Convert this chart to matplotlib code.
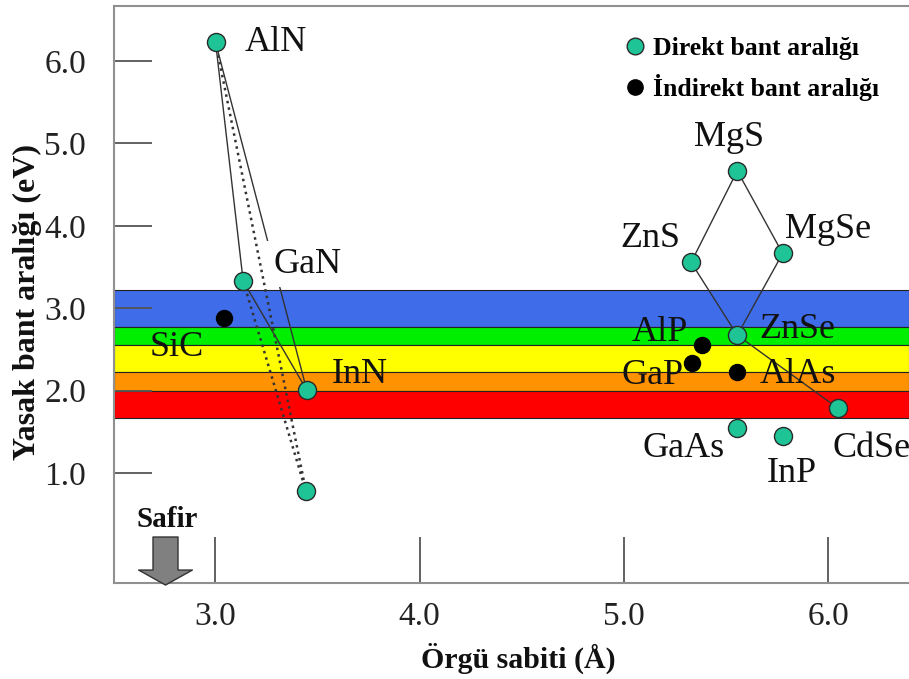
import matplotlib.pyplot as plt
from matplotlib.lines import Line2D
from matplotlib.patches import FancyArrowPatch

plt.rcParams['font.family'] = ['Liberation Serif', 'DejaVu Serif']

# --- Direkt bant aralıklı malzemeler (örgü sabiti Å, bant aralığı eV) ---
direkt_ad = ["AlN", "GaN", "InN", "InN_2", "MgS", "ZnS", "MgSe", "ZnSe", "CdSe", "GaAs", "InP"]
direkt_a = [3.002, 3.137, 3.448, 3.444, 5.554, 5.328, 5.776, 5.554, 6.048, 5.554, 5.779]
direkt_eg = [6.225, 3.328, 2.005, 0.779, 4.666, 3.555, 3.664, 2.672, 1.783, 1.547, 1.447]

# --- İndirekt bant aralıklı malzemeler ---
indirekt_ad = ["SiC", "AlP", "GaP", "AlAs"]
indirekt_a = [3.045, 5.380, 5.331, 5.554]
indirekt_eg = [2.882, 2.559, 2.336, 2.227]

# --- Görünür bölge renk bantları (eV) ---
bant_sinir = [3.218, 2.773, 2.550, 2.223, 1.996, 1.669]
bant_renk = ["#3f6ce8", "#00ee00", "#ffff00", "#ff9200", "#ff0000"]

# --- Bağlantı çizgileri ---
duz_cizgi = [("AlN", "GaN"), ("AlN", "InN"), ("GaN", "InN"),
             ("ZnS", "MgS"), ("MgS", "MgSe"), ("ZnS", "ZnSe"),
             ("MgSe", "ZnSe"), ("ZnSe", "CdSe")]
noktali_cizgi = [("AlN", "InN_2"), ("GaN", "InN_2")]

x_tik = [3.0, 4.0, 5.0, 6.0]
x_tik_etiket = ["3.0", "4.0", "5.0", "6.0"]
y_tik = [1.0, 2.0, 3.0, 4.0, 5.0, 6.0]
y_tik_etiket = ["1.0", "2.0", "3.0", "4.0", "5.0", "6.0"]

YESIL = "#1fc496"

fig = plt.figure(figsize=(9.09, 6.79), dpi=100)
ax = fig.add_axes([0.1254, 0.1414, 0.8746, 0.8498])
ax.set_xlim(2.505, 6.394)
ax.set_ylim(-0.335, 6.667)

# renk bantları
for i, renk in enumerate(bant_renk):
    ax.axhspan(bant_sinir[i + 1], bant_sinir[i], facecolor=renk,
               edgecolor="#222222", linewidth=0.8, zorder=1)

konum = dict(zip(direkt_ad, zip(direkt_a, direkt_eg)))
konum.update(dict(zip(indirekt_ad, zip(indirekt_a, indirekt_eg))))

for a, b in duz_cizgi:
    ax.plot([konum[a][0], konum[b][0]], [konum[a][1], konum[b][1]],
            color="#333333", lw=1.0, zorder=2)
for a, b in noktali_cizgi:
    ax.plot([konum[a][0], konum[b][0]], [konum[a][1], konum[b][1]],
            color="#333333", lw=1.8, ls=":", zorder=2)

ax.plot(direkt_a, direkt_eg, "o", ms=13, mfc=YESIL, mec="#2a2a2a", mew=1.0,
        ls="none", zorder=3)
ax.plot(indirekt_a, indirekt_eg, "o", ms=11.5, mfc="black", mec="black",
        ls="none", zorder=3)

# etiketler: (dx, dy) nokta cinsinden, yatay hizalama
etiket = {
    "AlN": (21, 0, "left"),
    "GaN": (22, 12, "left"),
    "InN": (18, 11, "left"),
    "SiC": (-34, -21, "center"),
    "MgS": (-6, 24, "center"),
    "ZnS": (-8, 17, "right"),
    "MgSe": (2, 17, "left"),
    "ZnSe": (16, 4, "left"),
    "CdSe": (-4, -29, "left"),
    "GaAs": (-9, -15, "right"),
    "InP": (6, -27, "center"),
    "AlP": (-10, 9, "right"),
    "GaP": (-6, -9, "right"),
    "AlAs": (16, -2, "left"),
}
for ad, (dx, dy, ha) in etiket.items():
    kutu = None
    if ad == "GaN":
        kutu = dict(facecolor="white", edgecolor="none", boxstyle="square,pad=0.18")
    ax.annotate(ad, konum[ad], xytext=(dx, dy), textcoords="offset points",
                ha=ha, va="center", fontsize=26, color="#111111",
                bbox=kutu, zorder=4, annotation_clip=False)

# Safir oku
ok = FancyArrowPatch((2.757, 0.223), (2.757, -0.36),
                     arrowstyle="simple,head_length=0.6,head_width=2.15,tail_width=1.0",
                     mutation_scale=18, facecolor="#808080", edgecolor="#333333",
                     lw=1.0, shrinkA=0, shrinkB=0, clip_on=False, zorder=4)
ax.add_patch(ok)
ax.text(2.767, 0.44, "Safir", ha="center", va="center", fontsize=21,
        fontweight="bold", color="#111111")

# lejant
tutamak = [Line2D([], [], marker="o", ls="none", ms=12, mfc=YESIL, mec="#2a2a2a"),
           Line2D([], [], marker="o", ls="none", ms=11, mfc="black", mec="black")]
ax.legend(tutamak, ["Direkt bant aralığı", "İndirekt bant aralığı"],
          loc="upper left", bbox_to_anchor=(0.644, 0.947), frameon=False,
          prop=dict(weight="bold", size=18.5), handlelength=0.7,
          handletextpad=0.35, labelspacing=0.55, borderaxespad=0, borderpad=0)

ax.set_xticks(x_tik)
ax.set_xticklabels(x_tik_etiket)
ax.set_yticks(y_tik)
ax.set_yticklabels(y_tik_etiket)
ax.tick_params(axis="x", direction="in", length=33, width=1.3, color="#555555",
               pad=13, labelsize=24, labelcolor="#222222")
ax.tick_params(axis="y", direction="in", length=27, width=1.3, color="#555555",
               pad=20, labelsize=24, labelcolor="#222222")

for s in ["left", "bottom", "top"]:
    ax.spines[s].set_color("#909090")
    ax.spines[s].set_linewidth(1.5)
ax.spines["right"].set_visible(False)

ax.set_xlabel("Örgü sabiti (Å)", fontsize=21.5, fontweight="bold", color="#111111")
ax.set_ylabel("Yasak bant aralığı (eV)", fontsize=23, fontweight="bold", color="#111111")
ax.xaxis.set_label_coords(0.509, -0.104)
ax.yaxis.set_label_coords(-0.0906, 0.487)

fig.savefig("out.png", dpi=100)
